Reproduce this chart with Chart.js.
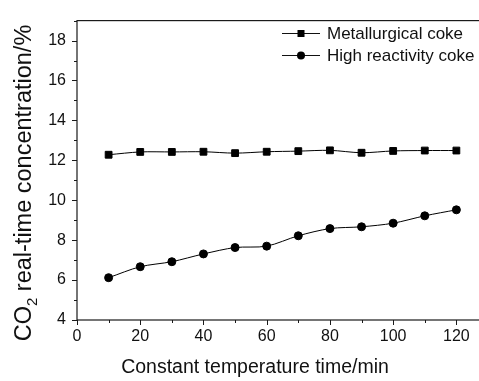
<!DOCTYPE html>
<html>
<head>
<meta charset="utf-8">
<script src="https://cdn.jsdelivr.net/npm/chart.js@4.4.1/dist/chart.umd.min.js"></script>
<style>
    html, body { margin: 0; padding: 0; background: #fff; overflow: hidden; }
    #grafico { display: block; }
</style>
</head>
<body>
<canvas id="grafico" width="495" height="381"></canvas>
<script>
// ===== CO2 concentration vs constant temperature time =====

const tiempoMin = [10, 20, 30, 40, 50, 60, 70, 80, 90, 100, 110, 120];
const cokeMetalurgico = [12.28, 12.42, 12.42, 12.43, 12.36, 12.43, 12.46, 12.5, 12.38, 12.47, 12.49, 12.49];
const cokeReactivo = [6.12, 6.67, 6.92, 7.31, 7.63, 7.7, 8.22, 8.58, 8.67, 8.85, 9.22, 9.52];
const nombresSeries = ['Metallurgical coke', 'High reactivity coke'];
const etiquetasX = [0, 20, 40, 60, 80, 100, 120];
const etiquetasY = [4, 6, 8, 10, 12, 14, 16, 18];

const FUENTE = '"Liberation Sans", Arial, Helvetica, sans-serif';
const COLOR_EJE = '#1a1a1a';

function puntos(xs, ys) {
    return xs.map((x, i) => ({ x: x, y: ys[i] }));
}

// Marco, marcas de los ejes, titulos y leyenda
const pluginDecoracion = {
    id: 'decoracion',
    afterDraw(chart) {
        const ctx = chart.ctx;
        const area = chart.chartArea;
        const sx = chart.scales.x;
        const sy = chart.scales.y;

        ctx.save();
        ctx.strokeStyle = COLOR_EJE;
        ctx.lineWidth = 1.2;
        ctx.strokeRect(area.left, area.top, area.right - area.left, area.bottom - area.top);

        // marcas eje X (hacia fuera)
        ctx.lineWidth = 1;
        sx.ticks.forEach(t => {
            const px = Math.round(sx.getPixelForValue(t.value)) + 0.5;
            const largo = etiquetasX.includes(t.value) ? 5 : 3;
            ctx.beginPath();
            ctx.moveTo(px, area.bottom);
            ctx.lineTo(px, area.bottom + largo);
            ctx.stroke();
        });
        // marcas eje Y
        sy.ticks.forEach(t => {
            const py = Math.round(sy.getPixelForValue(t.value)) + 0.5;
            const largo = etiquetasY.includes(t.value) ? 5 : 3;
            ctx.beginPath();
            ctx.moveTo(area.left, py);
            ctx.lineTo(area.left - largo, py);
            ctx.stroke();
        });

        // titulo eje X
        ctx.fillStyle = '#111';
        ctx.font = '19.5px ' + FUENTE;
        ctx.textAlign = 'center';
        ctx.textBaseline = 'middle';
        ctx.fillText('Constant temperature time/min', 255, 368);

        // titulo eje Y con subindice
        ctx.translate(25, 183);
        ctx.rotate(-Math.PI / 2);
        const partes = [
            { t: 'CO', f: '23.5px ' + FUENTE, dy: 0 },
            { t: '2', f: '15px ' + FUENTE, dy: 8 },
            { t: ' real-time concentration/%', f: '23.5px ' + FUENTE, dy: 0 }
        ];
        let total = 0;
        partes.forEach(p => { ctx.font = p.f; p.w = ctx.measureText(p.t).width; total += p.w; });
        let x = -total / 2;
        ctx.textAlign = 'left';
        ctx.textBaseline = 'middle';
        partes.forEach(p => {
            ctx.font = p.f;
            ctx.fillText(p.t, x, p.dy);
            x += p.w;
        });
        ctx.restore();

        // leyenda
        ctx.save();
        const filas = [33, 55];
        chart.data.datasets.forEach((ds, i) => {
            const y = filas[i];
            ctx.strokeStyle = '#111';
            ctx.lineWidth = 1;
            ctx.beginPath();
            ctx.moveTo(282, y + 0.5);
            ctx.lineTo(320, y + 0.5);
            ctx.stroke();
            ctx.fillStyle = '#000';
            if (ds.pointStyle === 'rect') {
                ctx.fillRect(301 - 3.5, y - 3, 7, 7);
            } else {
                ctx.beginPath();
                ctx.arc(301, y + 0.5, 4, 0, Math.PI * 2);
                ctx.fill();
            }
            ctx.fillStyle = '#111';
            ctx.font = '17px ' + FUENTE;
            ctx.textAlign = 'left';
            ctx.textBaseline = 'middle';
            ctx.fillText(ds.label, 327, y + 1);
        });
        ctx.restore();
    }
};

document.addEventListener('DOMContentLoaded', function() {
    const ctx = document.getElementById('grafico');
    new Chart(ctx, {
        type: 'line',
        data: {
            datasets: [{
                label: nombresSeries[0],
                data: puntos(tiempoMin, cokeMetalurgico),
                borderColor: '#000',
                backgroundColor: '#000',
                borderWidth: 1,
                pointStyle: 'rect',
                pointRadius: 4.8,
                pointHoverRadius: 4.8,
                tension: 0.3
            }, {
                label: nombresSeries[1],
                data: puntos(tiempoMin, cokeReactivo),
                borderColor: '#000',
                backgroundColor: '#000',
                borderWidth: 1,
                pointStyle: 'circle',
                pointRadius: 4,
                pointHoverRadius: 4,
                tension: 0.3
            }]
        },
        options: {
            responsive: false,
            devicePixelRatio: 1,
            animation: false,
            layout: { padding: { top: 12, right: 6, left: 0, bottom: 0 } },
            plugins: {
                legend: { display: false },
                tooltip: { enabled: false }
            },
            scales: {
                x: {
                    type: 'linear',
                    min: 0,
                    max: 130,
                    grid: { display: false, drawTicks: false },
                    border: { display: false },
                    ticks: {
                        stepSize: 10,
                        autoSkip: false,
                        maxRotation: 0,
                        padding: 7,
                        color: '#111',
                        font: { family: FUENTE, size: 16 },
                        callback: v => etiquetasX.includes(v) ? String(v) : ''
                    },
                    afterFit: s => { s.height = 61; }
                },
                y: {
                    min: 4,
                    max: 19,
                    grid: { display: false, drawTicks: false },
                    border: { display: false },
                    ticks: {
                        stepSize: 1,
                        autoSkip: false,
                        padding: 11,
                        color: '#111',
                        font: { family: FUENTE, size: 16 },
                        callback: v => etiquetasY.includes(v) ? String(v) : ''
                    },
                    afterFit: s => { s.width = 77; }
                }
            }
        },
        plugins: [pluginDecoracion]
    });
});
</script>
</body>
</html>
